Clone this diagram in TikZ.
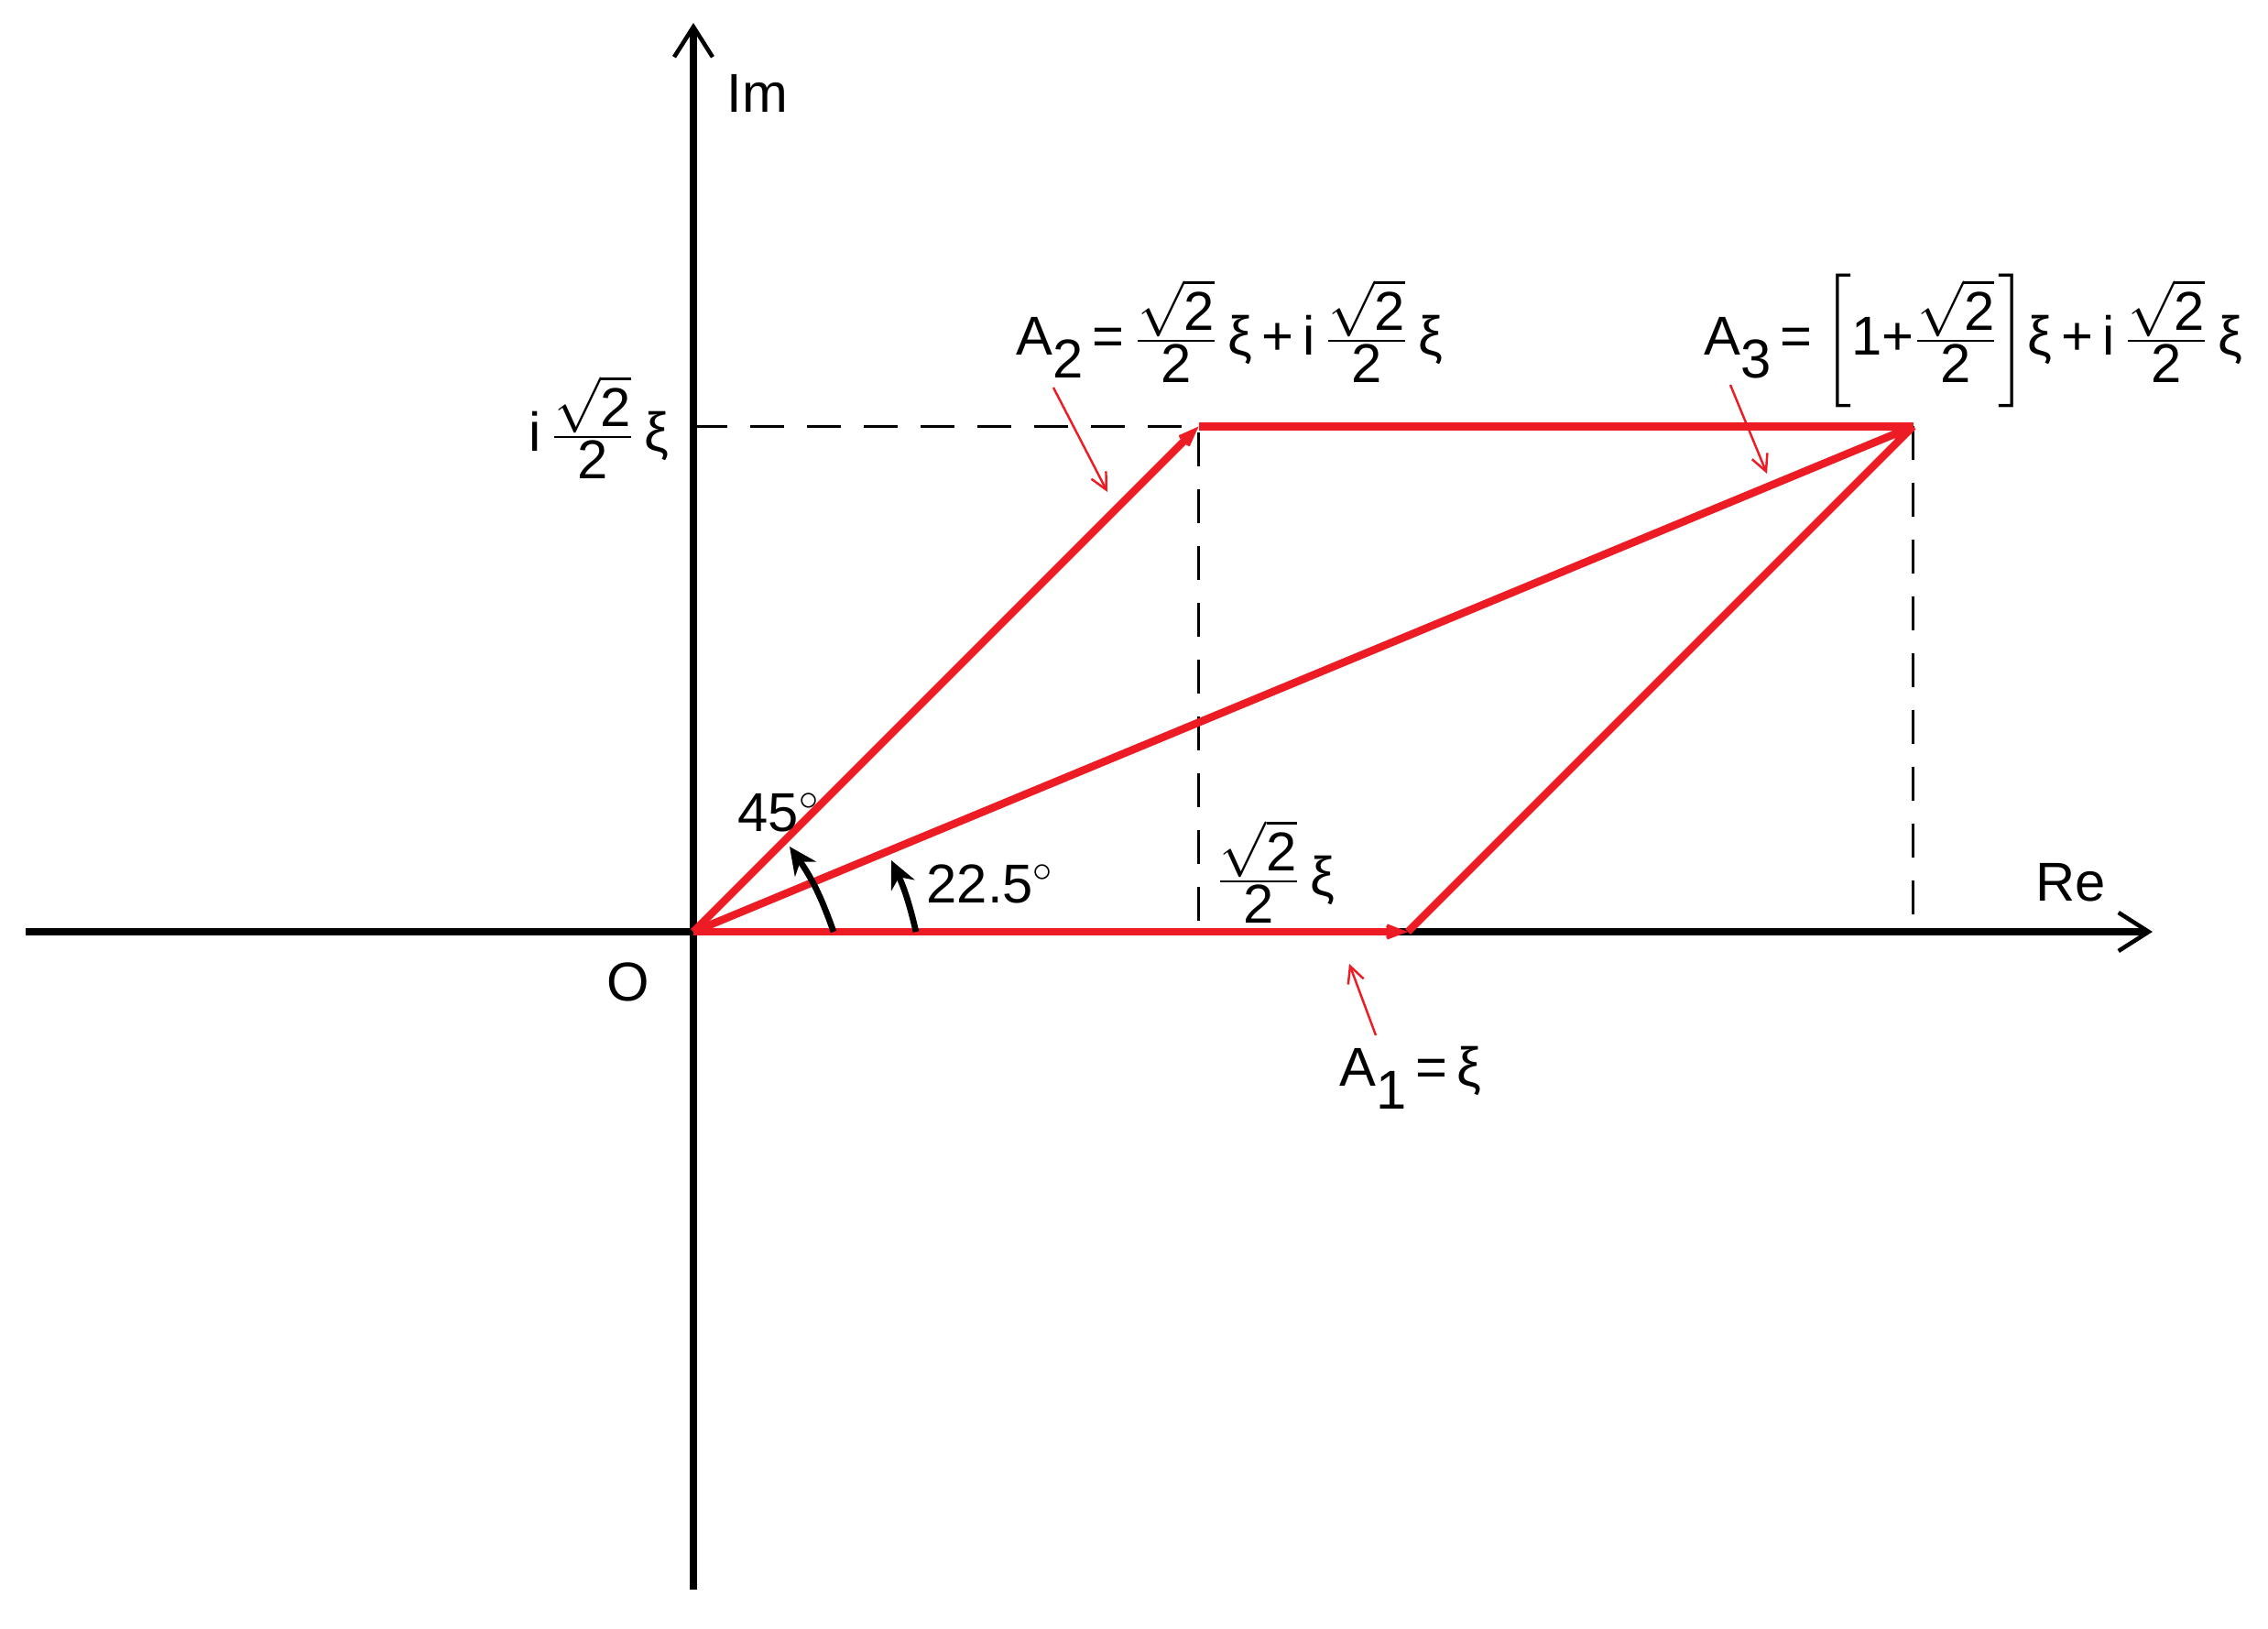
\documentclass[tikz,border=0pt]{standalone}
\usepackage{amsmath}
\usepackage{fontspec}
\setmainfont{Liberation Sans}
\usetikzlibrary{arrows.meta}
\usetikzlibrary{calc}
\usetikzlibrary{positioning}

\definecolor{vecred}{RGB}{237,28,36}
\newcommand{\lowsub}[1]{\raisebox{-0.42em}{#1}}
\newcommand{\gap}{\hspace{0.17em}}
\newcommand{\halfroot}{$\tfrac{\sqrt{\mbox{2}}}{\mbox{2}}$}

\tikzset{
  axis/.style={line width=2.3pt,-{Straight Barb[length=0.33cm,width=0.42cm,line width=1.3pt 0]}},
  guide/.style={line width=0.8pt,dash pattern=on 0.37cm off 0.25cm},
  side/.style={vecred,line width=2.4pt},
  vec/.style={side,-{Stealth[length=0.42cm,width=0.32cm,inset=0.26cm]}},
  angarrow/.style={line width=1.9pt,-{Stealth[length=0.3cm,width=0.28cm]}},
  pointer/.style={vecred,line width=0.7pt,-{Straight Barb[length=0.18cm,width=0.18cm]}},
  lbl/.style={inner sep=0pt,anchor=base west}
}

\begin{document}
\begin{tikzpicture}[font=\fontsize{17}{21}\selectfont]
\useasboundingbox (-7.57,-7.60) rectangle (17.19,10.17);

\coordinate (O) at (0,0);
\coordinate (A1) at (7.8,0);
\coordinate (A2) at (45:7.8);
\coordinate (A3) at ($(A1)+(A2)$);
\coordinate (ReL) at (-7.29,0);
\coordinate (ReR) at (15.93,0);
\coordinate (ImB) at (0,-7.18);
\coordinate (ImT) at (0,9.92);
\coordinate (A2y) at (O |- A2);
\coordinate (A2x) at (A2 |- O);
\coordinate (A3x) at (A3 |- O);

% axes and guides
\draw[axis] (ReL) -- (ReR);
\draw[axis] (ImB) -- (ImT);
\draw[guide] (A2y) -- (A2) -- (A2x);
\draw[guide] (A3) -- (A3x);

% vectors
\draw[side] (A2) -- (A3);
\draw[side] (A1) -- (A3);
\draw[vec] (O) -- (A1);
\draw[vec] (O) -- (A2);
\draw[vec] (O) -- (A3);

% angles
\draw[angarrow] (1.53,0) to[bend right=8] (1.05,0.93);
\draw[angarrow] (2.43,0) to[bend right=6] (2.16,0.78);

\node[lbl] (lblIm) at (0.36,8.95) {Im};
\node[lbl] (lblRe) at (14.65,0.34) {Re};
\node[inner sep=0pt] (lblO) at (-0.71,-0.55) {O};
\node[lbl] (lbl45) at (0.48,1.10) {45$^{\circ}$};
\node[lbl] (lbl225) at (2.54,0.32) {22.5$^{\circ}$};
\node[lbl] (lblRx) at (5.70,0.40) {\halfroot\gap ξ};
\node[lbl] (lblIy) at (-1.80,5.25) {i\gap\halfroot\gap ξ};
\node[lbl] (lblA1) at (7.05,-1.68) {A\lowsub{1}\gap=\gap ξ};
\node[lbl] (lblA2) at (3.52,6.30) {A\lowsub{2}\gap=\gap\halfroot\gap ξ\gap+\gap i\gap\halfroot\gap ξ};
\node[lbl] (lblA3) at (11.03,6.30) {A\lowsub{3}\gap=\gap$\left[\mbox{1+}\tfrac{\sqrt{\mbox{2}}}{\mbox{2}}\right]$ξ\gap+\gap i\gap\halfroot\gap ξ};

% pointers
\coordinate (pA1) at (7.16,-0.35);
\coordinate (pA2) at (4.52,4.80);
\coordinate (pA3) at (11.72,5.00);
\draw[pointer] ($(lblA1.base west)+(0.40,0.55)$) -- (pA1);
\draw[pointer] ($(lblA2.base west)+(0.41,-0.36)$) -- (pA2);
\draw[pointer] ($(lblA3.base west)+(0.29,-0.33)$) -- (pA3);

\end{tikzpicture}
\end{document}
